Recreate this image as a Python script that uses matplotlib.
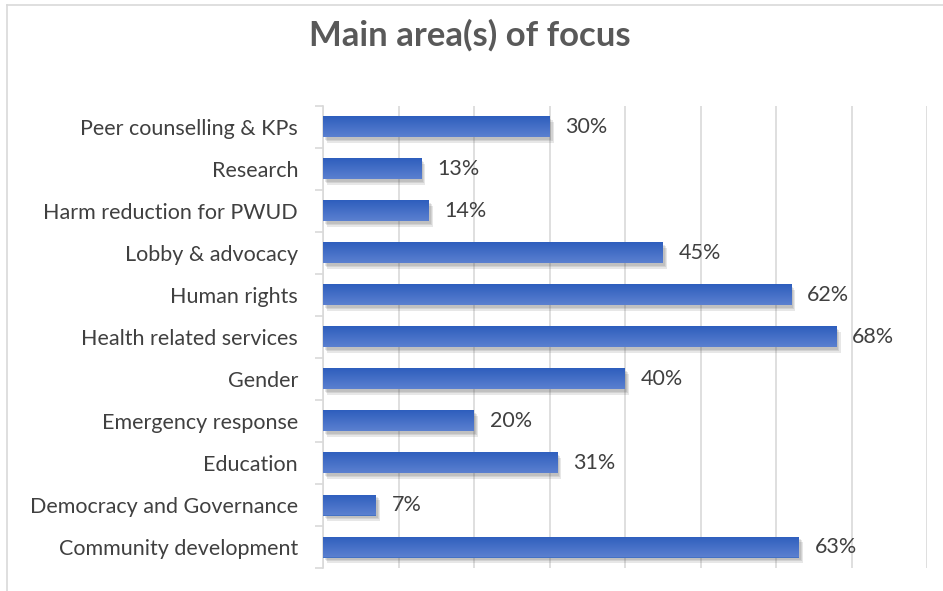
import numpy as np
import matplotlib.pyplot as plt
import matplotlib.patheffects as pe
from matplotlib.lines import Line2D
from matplotlib.colors import LinearSegmentedColormap

categories = ['Peer counselling & KPs', 'Research', 'Harm reduction for PWUD',
              'Lobby & advocacy', 'Human rights', 'Health related services',
              'Gender', 'Emergency response', 'Education',
              'Democracy and Governance', 'Community development']
values = [0.30, 0.13, 0.14, 0.45, 0.62, 0.68, 0.40, 0.20, 0.31, 0.07, 0.63]
value_labels = ['30%', '13%', '14%', '45%', '62%', '68%', '40%', '20%', '31%', '7%', '63%']

plt.rcParams['font.family'] = ['Lato', 'DejaVu Sans']

fig = plt.figure(figsize=(9.43, 5.91), dpi=100)
ax = fig.add_axes([323/943, 1-568/591, 604/943, 462/591])

# chart border
fig.add_artist(Line2D([7/943, 7/943], [0, 1-5/591], color='#d9d9d9', lw=1.2))
fig.add_artist(Line2D([7/943, 1], [1-5/591, 1-5/591], color='#d9d9d9', lw=1.2))

n = len(categories)
y = np.arange(n)[::-1]
# soft shadow: a few stacked offset shadows
shadow = [pe.SimplePatchShadow(offset=(o, -o * 1.3), shadow_rgbFace='#404040', alpha=0.12)
          for o in (3.0, 2.2, 1.4)]
bars = ax.barh(y, values, height=0.5, color='#4472c4', zorder=3,
               path_effects=shadow + [pe.Normal()])

# vertical gradient on each bar
grad = np.linspace(0, 1, 64).reshape(-1, 1)
cmap = LinearSegmentedColormap.from_list('g', ['#5b80d0', '#2e5ebd'])
for b in bars:
    x0, y0 = b.get_x(), b.get_y()
    w, h = b.get_width(), b.get_height()
    im = ax.imshow(grad, cmap=cmap, aspect='auto', extent=[x0, x0 + w, y0 + h, y0],
                   zorder=4, interpolation='bilinear')
    im.set_clip_path(b)

for yi, v, lab in zip(y, values, value_labels):
    ax.text(v + 0.021, yi, lab, va='center', ha='left', fontsize=15.5, color='#404040')

ax.set_xlim(0, 0.8)
ax.set_ylim(-0.5, n - 0.5)
ax.set_xticks(np.arange(0, 0.81, 0.1))
ax.xaxis.grid(True, color='#d9d9d9', lw=1.2, zorder=0)
ax.tick_params(axis='x', length=0, labelbottom=False)

ax.set_yticks(y)
ax.set_yticklabels(categories, fontsize=15.5, color='#404040')
ax.tick_params(axis='y', which='major', length=0, pad=18)
ax.set_yticks(np.arange(-0.5, n, 1), minor=True)
ax.tick_params(axis='y', which='minor', length=6, color='#d9d9d9', width=1.2)

for s in ['top', 'right', 'bottom']:
    ax.spines[s].set_visible(False)
ax.spines['left'].set_color('#d9d9d9')
ax.spines['left'].set_linewidth(1.2)

fig.text(470/943, 1-35/591, 'Main area(s) of focus', ha='center', va='center',
         fontsize=25, fontweight='bold', color='#595959')

fig.savefig('out.png', dpi=100)
